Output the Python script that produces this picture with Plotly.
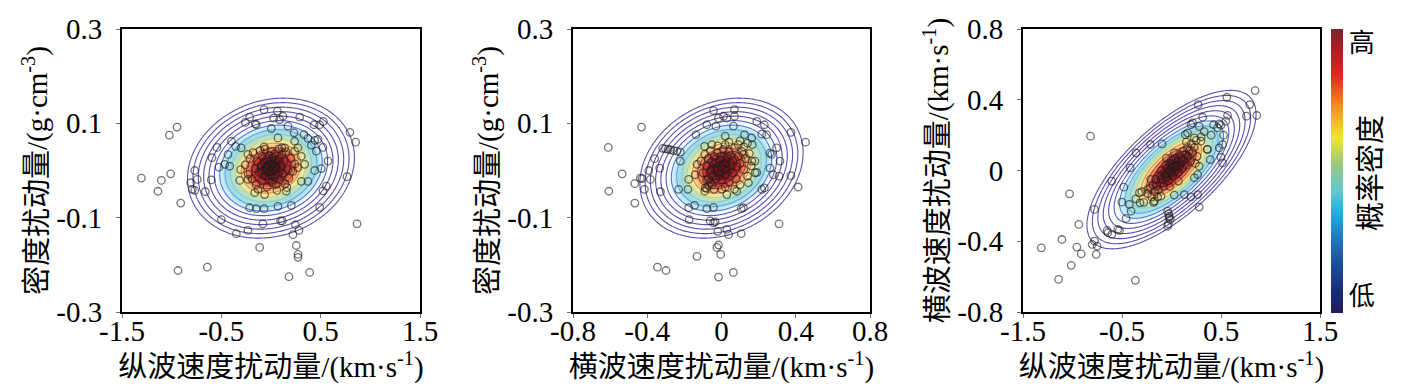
import numpy as np
import plotly.graph_objects as go

# ---------------- data ----------------
# Panel 1: P-wave velocity perturbation (x) vs density perturbation (y)
p1_outer = [(-1.305,-0.016),(-1.104,-0.021),(-1.138,-0.044),(-1.01,-0.007),(-1.023,0.075),(-0.946,0.092),
            (-0.909,-0.069),(-0.936,-0.212),(-0.641,-0.205),(-0.809,-0.026),(-0.768,0.0),(-0.742,-0.019),
            (-0.792,-0.040),(-0.768,-0.042),(-0.661,-0.045),(-0.601,-0.020),(-0.594,0.027),(-0.544,0.049),
            (-0.524,0.007),(-0.500,-0.104),(-0.349,-0.134),(-0.232,-0.127),(-0.114,-0.163),(-0.081,-0.113),
            (0.097,-0.107),(0.114,-0.107),(0.245,-0.115),(0.282,-0.127),(0.221,-0.136),(0.255,-0.159),
            (0.272,-0.178),(0.272,-0.184),(0.389,-0.216),(0.181,-0.225),(0.490,-0.078),(0.866,-0.113),
            (0.765,-0.013),(0.852,0.060),(0.795,0.081),(0.527,0.104),(0.490,0.097),(0.433,0.097),
            (0.289,0.113),(0.121,0.115),(0.064,0.126),(-0.070,0.129),(-0.215,0.113),(-0.258,0.102),
            (-0.148,0.097),(-0.158,0.099),(0.027,0.111),(0.087,0.108),(0.171,0.094),(0.003,0.089),
            (0.232,0.080),(0.332,0.076),(0.372,0.068),(0.440,0.064),(0.473,0.066),(0.523,0.049),
            (0.574,0.020),(0.507,0.004),(0.557,-0.033),(0.523,-0.043),(0.440,0.0),(0.456,0.041),
            (0.406,0.054),(0.305,0.030),(0.272,0.048),(0.238,0.062),(-0.356,0.051),(-0.433,0.034),
            (-0.416,0.009),(-0.305,0.002),(-0.232,-0.019),(-0.315,-0.021),(-0.164,-0.047),(-0.064,-0.051),
            (-0.215,-0.079),(-0.148,-0.081),(-0.070,-0.081),(0.070,-0.076),(0.205,-0.074),(0.154,-0.044),
            (0.305,-0.023),(-0.466,0.013),(-0.399,0.062),(-0.30,0.048),(-0.232,0.034),(0.070,0.069),
            (0.138,0.048),(0.238,0.041),(0.339,0.013),(0.372,-0.023)]
p1_core = [(-0.26,0.012),(-0.23,-0.008),(-0.21,0.025),(-0.19,-0.018),(-0.18,0.038),(-0.16,0.004),
           (-0.15,-0.030),(-0.14,0.020),(-0.12,-0.004),(-0.11,0.042),(-0.10,0.010),(-0.09,-0.022),
           (-0.09,0.030),(-0.08,0.000),(-0.07,0.018),(-0.06,-0.012),(-0.06,0.045),(-0.05,0.006),
           (-0.04,-0.035),(-0.04,0.024),(-0.03,-0.004),(-0.03,0.012),(-0.02,0.032),(-0.02,-0.018),
           (-0.01,0.002),(-0.01,0.020),(0.00,-0.008),(0.00,0.010),(0.00,0.040),(0.01,-0.025),
           (0.01,0.015),(0.02,0.000),(0.02,0.028),(0.03,-0.014),(0.03,0.008),(0.04,0.036),
           (0.05,-0.030),(0.05,0.018),(0.06,0.004),(0.07,-0.010),(0.08,0.025),(0.08,0.046),
           (0.09,-0.020),(0.10,0.010),(0.11,0.034),(0.12,-0.006),(0.13,0.020),(0.14,-0.028),
           (0.15,0.040),(0.17,0.002),(0.18,-0.016),(0.20,0.026),(0.22,-0.002),(0.24,0.014),
           (0.27,0.006),(-0.13,-0.040),(0.06,-0.042),(-0.07,0.050),(0.11,0.048),(0.16,-0.036)]

# Panel 2: S-wave velocity perturbation (x) vs density perturbation (y)
p2_outer = [(-0.610,0.049),(-0.607,-0.044),(-0.535,-0.007),(-0.467,-0.028),(-0.467,-0.069),(-0.431,0.092),
            (-0.437,-0.016),(-0.428,-0.017),(-0.415,-0.040),(-0.392,0.0),(-0.383,-0.019),(-0.360,0.025),
            (-0.333,0.005),(-0.329,-0.045),(-0.345,-0.205),(-0.299,-0.212),(-0.317,0.047),(-0.302,0.046),
            (-0.288,0.045),(-0.274,0.044),(-0.258,0.042),(-0.240,0.041),(-0.222,0.039),(-0.231,-0.040),
            (-0.181,-0.040),(-0.177,-0.079),(-0.174,-0.104),(-0.145,-0.074),(-0.132,-0.182),(-0.138,0.076),
            (-0.079,0.097),(-0.043,0.127),(-0.030,0.094),(-0.016,0.111),(0.011,0.115),(0.029,0.111),
            (0.070,0.129),(0.070,0.115),(0.064,0.094),(0.020,0.073),(0.190,0.104),(0.231,0.097),
            (0.217,0.077),(0.163,0.069),(0.124,0.076),(0.166,0.055),(0.243,0.076),(0.374,0.081),
            (0.453,0.060),(0.297,0.048),(0.261,0.037),(0.270,0.034),(0.315,0.020),(0.261,0.005),
            (0.279,-0.009),(0.310,-0.012),(0.374,-0.011),(0.413,-0.035),(0.217,-0.040),(0.231,-0.037),
            (0.118,-0.079),(0.106,-0.081),(-0.043,-0.078),(-0.079,-0.081),(-0.061,-0.107),(-0.043,-0.111),
            (-0.034,-0.109),(-0.020,-0.129),(0.029,-0.125),(0.038,-0.136),(0.106,-0.134),(-0.016,-0.158),
            (-0.025,-0.163),(-0.004,-0.178),(-0.016,-0.226),(0.064,-0.216),(0.310,-0.113),(-0.177,-0.019),
            (-0.142,-0.009),(-0.222,0.020),(-0.132,0.013),(-0.091,0.051),(-0.052,0.055),(0.020,0.055),
            (0.100,0.063),(0.118,0.034),(0.163,0.020),(0.181,-0.005),(0.145,-0.026),(0.082,-0.044),
            (0.029,-0.051),(0.002,-0.040),(-0.088,-0.037),(-0.070,-0.019)]
p2_core = [(-0.11,0.020),(-0.10,-0.005),(-0.09,0.035),(-0.08,0.010),(-0.08,-0.020),(-0.07,0.025),
           (-0.06,0.000),(-0.06,0.042),(-0.05,-0.012),(-0.05,0.018),(-0.04,0.030),(-0.04,0.005),
           (-0.03,-0.018),(-0.03,0.015),(-0.02,0.038),(-0.02,0.002),(-0.01,0.022),(-0.01,-0.008),
           (0.00,0.010),(0.00,0.030),(0.00,-0.020),(0.01,0.004),(0.01,0.045),(0.02,0.016),
           (0.02,-0.010),(0.03,0.028),(0.03,0.000),(0.04,0.040),(0.04,-0.025),(0.05,0.012),
           (0.05,0.032),(0.06,-0.005),(0.06,0.022),(0.07,0.048),(0.08,0.008),(0.08,-0.018),
           (0.09,0.030),(0.10,0.015),(0.10,-0.030),(0.11,0.040),(0.12,0.002),(0.13,0.025),
           (0.14,-0.012),(0.15,0.036),(0.16,0.010),(0.18,0.020),(0.19,-0.004),(-0.06,-0.025),
           (-0.07,-0.032),(-0.08,-0.038),(-0.09,-0.044),(-0.05,-0.030),(-0.04,-0.040),(0.02,-0.035),
           (0.07,-0.040),(0.12,0.050),(0.09,0.055),(0.14,0.058),(-0.02,0.052),(0.04,0.060)]

# Panel 3: P-wave velocity perturbation (x) vs S-wave velocity perturbation (y)
p3_outer = [(-1.315,-0.437),(-1.141,-0.616),(-1.107,-0.390),(-1.013,-0.536),(-0.956,-0.433),(-0.936,-0.305),
            (-0.912,-0.471),(-1.030,-0.132),(-0.818,0.194),(-0.801,-0.418),(-0.778,-0.399),(-0.751,-0.427),
            (-0.761,-0.474),(-0.778,-0.220),(-0.650,-0.339),(-0.643,-0.352),(-0.603,-0.361),(-0.543,-0.333),
            (-0.526,-0.339),(-0.459,-0.271),(-0.365,-0.621),(-0.603,-0.060),(-0.502,-0.179),(-0.482,-0.094),
            (-0.425,-0.192),(-0.408,-0.230),(-0.418,0.015),(-0.358,0.100),(-0.213,0.147),(-0.096,0.151),
            (-0.324,-0.126),(-0.318,-0.183),(-0.240,-0.107),(-0.106,-0.145),(-0.173,-0.173),(-0.039,-0.230),
            (-0.022,-0.258),(-0.012,-0.277),(-0.032,-0.301),(-0.039,-0.314),(-0.030,-0.245),(-0.025,-0.268),
            (0.028,-0.139),(0.129,-0.136),(0.196,-0.149),(0.264,-0.136),(0.280,-0.207),(0.264,-0.023),
            (0.280,0.024),(0.230,-0.041),(0.270,0.373),(0.314,0.301),(0.559,0.414),(0.845,0.452),
            (0.791,0.373),(0.757,0.307),(0.861,0.311),(0.566,0.312),(0.549,0.279),(0.482,0.264),
            (0.465,0.241),(0.499,0.256),(0.425,0.260),(0.526,0.200),(0.516,0.147),(0.482,0.128),
            (0.499,0.075),(0.516,0.043),(0.391,0.062),(0.364,0.119),(0.196,0.260),(0.213,0.269),
            (0.162,0.213),(0.139,0.203),(0.230,0.184),(0.297,0.166),(-0.36,-0.16),(-0.30,-0.12),
            (-0.28,-0.18),(0.30,0.19),(0.33,0.22),(0.36,0.12),(0.28,0.25),(0.40,0.20)]
p3_core = [(-0.24,-0.13),(-0.22,-0.10),(-0.20,-0.15),(-0.19,-0.08),(-0.17,-0.12),(-0.16,-0.05),
           (-0.15,-0.09),(-0.13,-0.11),(-0.12,-0.03),(-0.11,-0.07),(-0.10,0.00),(-0.09,-0.05),
           (-0.08,-0.09),(-0.07,-0.02),(-0.06,0.03),(-0.05,-0.04),(-0.04,0.01),(-0.03,-0.06),
           (-0.02,0.04),(-0.01,-0.01),(0.00,0.02),(0.00,0.06),(0.01,-0.03),(0.02,0.03),
           (0.03,0.00),(0.04,0.07),(0.05,0.02),(0.06,0.05),(0.07,-0.01),(0.08,0.09),
           (0.09,0.04),(0.10,0.07),(0.11,0.01),(0.12,0.11),(0.13,0.06),(0.14,0.09),
           (0.15,0.03),(0.16,0.13),(0.17,0.08),(0.18,0.11),(0.19,0.05),(0.20,0.15),
           (0.21,0.10),(0.23,0.13),(0.25,0.17),(0.26,0.08),(-0.21,-0.05),(-0.14,-0.15),
           (-0.05,0.07),(0.07,-0.06),(0.15,0.16),(0.24,0.04),(-0.18,-0.18),(0.03,0.10),(-0.02,-0.09)]

# Bivariate normal fit read from the ellipses: mean_x, mean_y, sigma_x, sigma_y, rho
p1_fit = [0.0, 0.005, 0.30, 0.053, 0.15]
p2_fit = [0.0, 0.005, 0.157, 0.053, 0.22]
p3_fit = [0.0, 0.005, 0.305, 0.160, 0.70]

# Axis ranges and tick labels
vp_ticks = [-1.5, -0.5, 0.5, 1.5]
vp_ticktext = ['-1.5', '-0.5', '0.5', '1.5']
vs_ticks = [-0.8, -0.4, 0.0, 0.4, 0.8]
vs_ticktext = ['-0.8', '-0.4', '0', '0.4', '0.8']
rho_ticks = [-0.3, -0.1, 0.1, 0.3]
rho_ticktext = ['-0.3', '-0.1', '0.1', '0.3']

vp_title = '纵波速度扰动量/(km·s<sup>-1</sup>)'
vs_title = '横波速度扰动量/(km·s<sup>-1</sup>)'
rho_title = '密度扰动量/(g·cm<sup>-3</sup>)'
cbar_ticktext = ['低', '高']
cbar_title = '概率密度'

# ---------------- styling ----------------
W, H = 1417, 389
fill_cs = [[0.0, 'rgb(100,10,20)'], [0.12, 'rgb(140,20,30)'], [0.20, 'rgb(205,55,50)'],
           [0.27, 'rgb(240,150,90)'], [0.34, 'rgb(245,235,150)'], [0.42, 'rgb(180,225,205)'],
           [0.50, 'rgb(160,218,235)'], [0.57, 'rgb(220,242,248)'], [0.62, 'rgb(255,255,255)'],
           [1.0, 'rgb(255,255,255)']]
line_cs = [[0.0, 'rgb(90,0,10)'], [0.15, 'rgb(150,20,30)'], [0.25, 'rgb(220,80,60)'],
           [0.32, 'rgb(240,190,80)'], [0.38, 'rgb(200,220,120)'], [0.45, 'rgb(110,200,220)'],
           [0.52, 'rgb(90,160,225)'], [0.60, 'rgb(80,100,200)'], [0.70, 'rgb(85,75,175)'],
           [1.0, 'rgb(95,80,170)']]
cbar_cs = [[0.0, 'rgb(30,30,90)'], [0.08, 'rgb(25,45,120)'], [0.18, 'rgb(30,80,160)'],
           [0.28, 'rgb(30,130,200)'], [0.36, 'rgb(30,180,225)'], [0.43, 'rgb(100,200,205)'],
           [0.52, 'rgb(150,200,130)'], [0.62, 'rgb(240,230,40)'], [0.72, 'rgb(245,150,30)'],
           [0.84, 'rgb(230,35,30)'], [0.93, 'rgb(170,30,35)'], [1.0, 'rgb(125,35,45)']]

SERIF = 'Liberation Serif, Times New Roman, serif'
MIXED = 'Liberation Serif, Noto Sans CJK SC, serif'
CJK = 'Noto Sans CJK SC, sans-serif'

fig = go.Figure()


def mahalanobis_grid(fit, xr, yr, n=301):
    mx, my, sx, sy, r = fit
    xs = np.linspace(xr[0], xr[1], n)
    ys = np.linspace(yr[0], yr[1], n)
    X, Y = np.meshgrid(xs, ys)
    u = (X - mx) / sx
    v = (Y - my) / sy
    d2 = (u * u - 2 * r * u * v + v * v) / (1 - r * r)
    return xs, ys, np.sqrt(d2)


panels = [
    (p1_outer + p1_core, p1_fit, (-1.5, 1.5), (-0.3, 0.3), 'x', 'y'),
    (p2_outer + p2_core, p2_fit, (-0.8, 0.8), (-0.3, 0.3), 'x2', 'y2'),
    (p3_outer + p3_core, p3_fit, (-1.5, 1.5), (-0.8, 0.8), 'x3', 'y3'),
]

for pts, fit, xr, yr, xa, ya in panels:
    xs, ys, dist = mahalanobis_grid(fit, xr, yr)
    fig.add_trace(go.Heatmap(x=xs, y=ys, z=dist, zmin=0, zmax=3, colorscale=fill_cs,
                             zsmooth='best', showscale=False, hoverinfo='skip',
                             xaxis=xa, yaxis=ya))
    fig.add_trace(go.Contour(x=xs, y=ys, z=dist, zauto=False, zmin=0, zmax=3,
                             colorscale=line_cs, showscale=False, hoverinfo='skip',
                             contours=dict(start=0.28, end=2.8, size=0.18, coloring='lines'),
                             line=dict(width=1.1), xaxis=xa, yaxis=ya))
    fig.add_trace(go.Scatter(x=[p[0] for p in pts], y=[p[1] for p in pts], mode='markers',
                             marker=dict(symbol='circle-open', size=7.5, color='rgba(30,30,30,0.62)',
                                         line=dict(width=1.3)),
                             showlegend=False, hoverinfo='skip', xaxis=xa, yaxis=ya))

# colour bar
cbar = dict(x=1323 / W, xanchor='left', xpad=0, thickness=12, len=284, lenmode='pixels',
            y=1 - 163 / H, yanchor='middle', ypad=0, outlinewidth=0,
            tickvals=[0.06, 0.95], ticktext=cbar_ticktext, ticks='',
            tickfont=dict(family=CJK, size=26, color='black'))
fig.add_trace(go.Scatter(x=[None], y=[None], mode='markers', xaxis='x3', yaxis='y3',
                         showlegend=False, hoverinfo='skip',
                         marker=dict(color=[0.5], cmin=0, cmax=1, colorscale=cbar_cs,
                                     showscale=True, colorbar=cbar)))

fig.add_annotation(text=cbar_title, x=1383 / W, y=1 - 165 / H, xref='paper', yref='paper',
                   textangle=-90, showarrow=False, font=dict(family=CJK, size=29, color='black'))

ydom = [1 - 304 / H, 1 - 21 / H]
xdoms = [[114 / W, 412 / W], [565 / W, 862 / W], [1015 / W, 1312 / W]]


def axis_style(dom, rng, tv, tt, title, anchor, is_y):
    d = dict(domain=dom, range=list(rng), tickvals=tv, ticktext=tt, showline=True, mirror=True,
             linecolor='black', linewidth=2, ticks='outside', ticklen=4, tickwidth=1,
             tickcolor='rgb(110,110,110)', showgrid=False, zeroline=False, anchor=anchor,
             automargin=False,
             tickfont=dict(family=SERIF, size=29, color='black'),
             title=dict(text=title, font=dict(family=MIXED, size=29, color='black'),
                        standoff=0))
    d['ticklabelstandoff'] = 8 if is_y else -12
    return d


fig.update_layout(
    width=W, height=H, margin=dict(l=0, r=0, t=0, b=0, autoexpand=False),
    paper_bgcolor='white', plot_bgcolor='white', showlegend=False,
    xaxis=axis_style(xdoms[0], (-1.5, 1.5), vp_ticks, vp_ticktext, vp_title, 'y', False),
    yaxis=axis_style(ydom, (-0.3, 0.3), rho_ticks, rho_ticktext, rho_title, 'x', True),
    xaxis2=axis_style(xdoms[1], (-0.8, 0.8), vs_ticks, vs_ticktext, vs_title, 'y2', False),
    yaxis2=axis_style(ydom, (-0.3, 0.3), rho_ticks, rho_ticktext, rho_title, 'x2', True),
    xaxis3=axis_style(xdoms[2], (-1.5, 1.5), vp_ticks, vp_ticktext, vp_title, 'y3', False),
    yaxis3=axis_style(ydom, (-0.8, 0.8), vs_ticks, vs_ticktext, vs_title, 'x3', True),
)

fig.write_html('out.html')
